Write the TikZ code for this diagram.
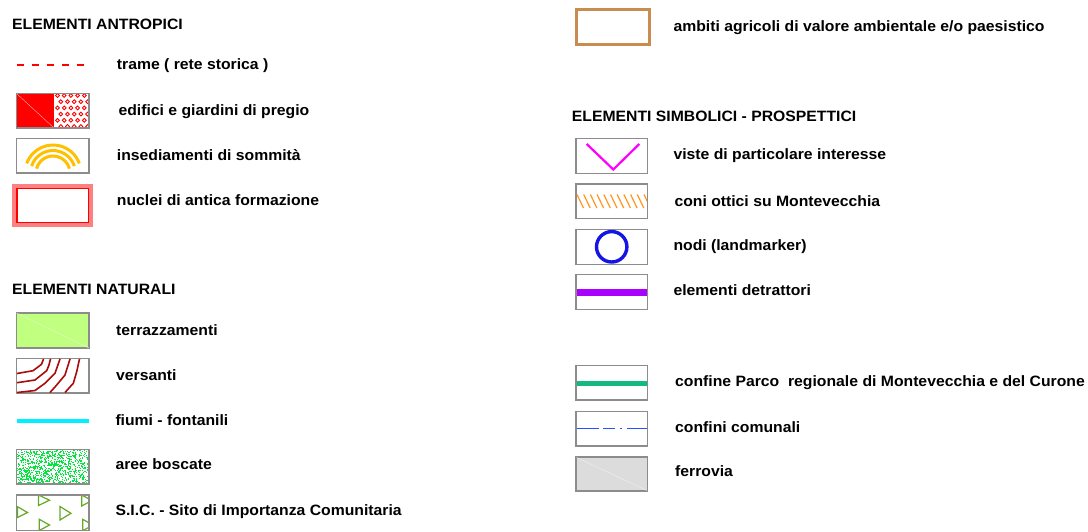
\documentclass[tikz,border=0pt]{standalone}
\usepackage{fontspec}
\setmainfont{Liberation Sans}[FakeStretch=1.05]
\definecolor{bordergrey}{RGB}{140,140,140}
\definecolor{amber}{RGB}{255,192,0}
\definecolor{pinkred}{RGB}{255,128,128}
\definecolor{lgreen}{RGB}{192,255,128}
\definecolor{darkred}{RGB}{170,10,10}
\definecolor{cyanl}{RGB}{0,240,255}
\definecolor{dotgreen}{RGB}{0,230,60}
\definecolor{trigreen}{RGB}{100,170,40}
\definecolor{brownb}{RGB}{200,140,80}
\definecolor{magentav}{RGB}{255,0,255}
\definecolor{oranget}{RGB}{255,150,30}
\definecolor{bluec}{RGB}{20,20,230}
\definecolor{purpleb}{RGB}{170,0,255}
\definecolor{parkgreen}{RGB}{20,185,130}
\definecolor{blued}{RGB}{40,80,255}
\definecolor{greyf}{RGB}{220,220,220}
\begin{document}
\begin{tikzpicture}[x=1pt,y=-1pt,
  lbl/.style={anchor=base west,inner sep=0pt,font=\fontsize{15}{17}\selectfont\bfseries},
  head/.style={anchor=base west,inner sep=0pt,font=\fontsize{15}{17}\selectfont\bfseries},
  symbox/.style={draw=bordergrey,line width=1.1pt}]
\useasboundingbox[fill=white] (0,0) rectangle (1088,531);

% ---------------- ELEMENTI ANTROPICI
\node[head] (hA) at (12,29.3) {ELEMENTI ANTROPICI};

% trame
\coordinate (tr1) at (17,64.5);
\coordinate (tr2) at (89,64.5);
\draw[red,line width=2pt,dash pattern=on 7pt off 8pt] (tr1) -- (tr2);
\node[lbl] (lA1) at (116.7,69) {trame ( rete storica )};

% edifici e giardini
\fill[red] (16.5,93.5) rectangle (54,128);
\draw[white!70!red,line width=0.4pt] (16.5,93.5) -- (54,128);
\foreach \r in {0,...,5}{
  \pgfmathsetmacro\yy{95.5+6.2*\r}
  \pgfmathsetmacro\off{mod(\r,2)*3.3}
  \foreach \c in {0,...,4}{
    \pgfmathsetmacro\xx{57.5+6.7*\c+\off}
    \ifdim\xx pt<89pt
      \draw[red,line width=0.9pt] (\xx,\yy) circle (1.9);
    \fi
  }
}
\draw[symbox] (16.5,93.5) rectangle (89,128);
\node[lbl] (lA2) at (118.3,115) {edifici e giardini di pregio};

% insediamenti
\draw[symbox,fill=white] (16.5,138.5) rectangle (89,173);
\draw[amber,line width=3pt] (53,173) ++(-160:28) arc (-160:-20:28);
\draw[amber,line width=3pt] (53,173) ++(-162:22.5) arc (-162:-18:22.5);
\draw[amber,line width=3pt] (53,173) ++(-165:17) arc (-165:-15:17);
\node[lbl] (lA3) at (116.7,160) {insediamenti di sommità};

% nuclei
\fill[pinkred] (12,184) rectangle (93,227);
\draw[red,line width=1.5pt,fill=white] (17,188.5) rectangle (88.5,222.5);
\node[lbl] (lA4) at (116.7,205) {nuclei di antica formazione};

% ---------------- ELEMENTI NATURALI
\node[head] (hN) at (12,294) {ELEMENTI NATURALI};

% terrazzamenti
\draw[symbox,fill=lgreen] (16.5,313) rectangle (89,348);
\draw[white!60!lgreen,line width=0.4pt] (16.5,313) -- (89,348);
\node[lbl] (lN1) at (116,335) {terrazzamenti};

% versanti
\draw[symbox,fill=white] (16.5,358.5) rectangle (89,393);
\begin{scope}[darkred,line width=1.6pt]
\draw (17,373.5) -- (33,370.7) -- (41.5,364.3) -- (43.5,359);
\draw (17,382.7) -- (35,380) -- (46.7,370.7) -- (49,365) -- (50.5,359);
\draw (17,392.5) -- (35,390.5) -- (45,383.3) -- (55,373.3) -- (60,359);
\draw (50,392.5) -- (56.7,385) -- (65,375) -- (70,359);
\draw (65,392.5) -- (73.3,383.3) -- (76.7,371.7) -- (79.5,359);
\end{scope}
\node[lbl] (lN2) at (116,380) {versanti};

% fiumi
\coordinate (fi1) at (17.3,421);
\coordinate (fi2) at (89,421);
\draw[cyanl,line width=3.3pt] (fi1) -- (fi2);
\node[lbl] (lN3) at (115.3,425) {fiumi - fontanili};

% aree boscate
\fill[white] (16.5,449.5) rectangle (89,484);
\pgfmathsetseed{7}
\foreach \i in {1,...,900}{
  \pgfmathsetmacro\rx{17+71*rnd}
  \pgfmathsetmacro\ry{450+33*rnd}
  \fill[dotgreen] (\rx,\ry) rectangle +(1.1,1.1);
}
\draw[symbox] (16.5,449.5) rectangle (89,484);
\node[lbl] (lN4) at (115.3,469.3) {aree boscate};

% SIC
\fill[white] (16.5,495) rectangle (89,530.5);
\begin{scope}
\clip (16.5,495) rectangle (89,530.5);
\begin{scope}[trigreen,line width=1.2pt,line join=miter]
\draw (38.5,495) -- (38.5,505.5) -- (49.5,500.2) -- cycle;
\draw (17.5,506.7) -- (17.5,517.5) -- (27.5,512.5) -- cycle;
\draw (60,506.5) -- (60,520) -- (71,513.3) -- cycle;
\draw (39.3,519.3) -- (39.3,530.5) -- (49.5,525) -- cycle;
\draw (81.7,495) -- (81.7,506) -- (92,500.5) -- cycle;
\draw (82.7,519.3) -- (82.7,530.7) -- (93,525) -- cycle;
\end{scope}
\end{scope}
\draw[symbox] (16.5,495) rectangle (89,530.5);
\node[lbl] (lN5) at (115.3,515) {S.I.C. - Sito di Importanza Comunitaria};

% ---------------- right column
% ambiti
\draw[brownb,line width=3pt,fill=white] (576.5,9.5) rectangle (649.5,44.5);
\node[lbl] (lR0) at (673.3,31.7) {ambiti agricoli di valore ambientale e/o paesistico};

\node[head] (hS) at (571.7,121.7) {ELEMENTI SIMBOLICI - PROSPETTICI};

% viste
\draw[symbox,fill=white] (576,138.5) rectangle (647.5,173.3);
\draw[magentav,line width=2.2pt] (586.7,144) -- (613.3,169.5) -- (639.3,144);
\node[lbl] (lS1) at (673.3,159.3) {viste di particolare interesse};

% coni ottici
\draw[symbox,fill=white] (576,184) rectangle (647.5,218.3);
\begin{scope}
\clip (576.5,184) rectangle (647,218);
\foreach \k in {0,...,10}{
  \draw[oranget,line width=1.2pt] (577+6.7*\k,194.5) -- ++(6.5,13.5);
}
\end{scope}
\node[lbl] (lS2) at (674.3,206) {coni ottici su Montevecchia};

% nodi
\draw[symbox,fill=white] (576,229.3) rectangle (647.5,264.3);
\draw[bluec,line width=3.4pt] (611.7,246.8) circle (15.2);
\node[lbl] (lS3) at (673.3,250.7) {nodi (landmarker)};

% elementi detrattori
\draw[symbox,fill=white] (576,274.3) rectangle (647.5,309.3);
\fill[purpleb] (576.5,288.5) rectangle (647,295.5);
\node[lbl] (lS4) at (673.3,295.7) {elementi detrattori};

% confine Parco
\draw[symbox,fill=white] (576,365.7) rectangle (647.5,400);
\fill[parkgreen] (576.5,381) rectangle (647,385.7);
\node[lbl] (lS5) at (675,386.7) {confine Parco\ \ regionale di Montevecchia e del Curone};

% confini comunali
\draw[symbox,fill=white] (576,411.7) rectangle (647.5,446);
\coordinate (cc1) at (576.5,428.3);
\coordinate (cc2) at (647,428.3);
\draw[blued,line width=1.1pt,dash pattern=on 22pt off 4.5pt on 12pt off 5pt on 2pt off 5pt] (cc1) -- (cc2);
\node[lbl] (lS6) at (675,432.3) {confini comunali};

% ferrovia
\draw[symbox,fill=greyf] (576,457) rectangle (647.5,491);
\draw[white!60!greyf,line width=0.4pt] (576.5,457.5) -- (647,490.5);
\node[lbl] (lS7) at (675,476.7) {ferrovia};
\end{tikzpicture}
\end{document}
